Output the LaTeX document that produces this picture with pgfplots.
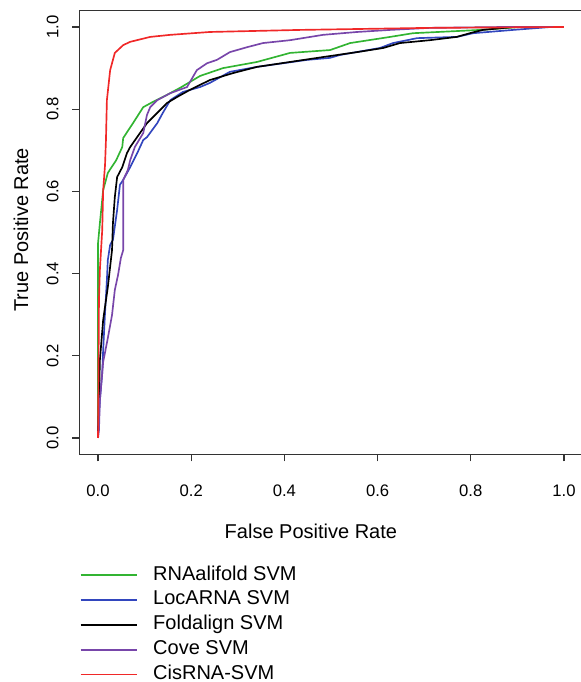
\documentclass[border=0pt]{standalone}
\usepackage{fontspec}
\setmainfont{Liberation Sans}
\usepackage{pgfplots}
\pgfplotsset{compat=1.18}

\definecolor{cgreen}{RGB}{50,180,50}
\definecolor{cblue}{RGB}{50,70,190}
\definecolor{cpurple}{RGB}{120,70,170}
\definecolor{cred}{RGB}{240,40,40}

\begin{document}
\begin{tikzpicture}
% page = 580 x 682 px at 0.6pt per px
\path[use as bounding box] (0pt,0pt) rectangle (348pt,-409.2pt);
\begin{axis}[
    scale only axis,
    width=301.92pt, height=266.28pt,
    at={(47.64pt,-272.64pt)}, anchor=south west,
    xmin=-0.04, xmax=1.04, ymin=-0.04, ymax=1.04,
    xtick={0,0.2,0.4,0.6,0.8,1}, ytick={0,0.2,0.4,0.6,0.8,1},
    tick pos=left, tick align=outside, major tick length=4.2pt,
    axis line style={black!80, line width=0.8pt},
    tick style={black!80, line width=0.8pt},
    /pgf/number format/.cd, fixed, fixed zerofill, precision=1, assume math mode=true,
    /pgfplots/.cd,
    ticklabel style={font=\fontsize{10}{11}\selectfont},
    yticklabel style={rotate=90, anchor=south},
    xticklabel shift=10.8pt,
    yticklabel shift=4.8pt,
    xlabel={False Positive Rate},
    ylabel={True Positive Rate},
    label style={font=\fontsize{12}{14}\selectfont},
    xlabel style={at={(axis description cs:0.46,-0.1726)}, anchor=center},
    ylabel style={at={(axis description cs:-0.116,0.506)}, anchor=center},
    legend style={at={(axis description cs:0.0,-0.2465)}, anchor=north west,
        draw=none, fill=none, inner sep=0pt, row sep=1.7pt,
        font=\fontsize{12}{14}\selectfont,
        nodes={inner sep=1pt, text height=8.6pt, text depth=2.6pt},
        /tikz/every odd column/.append style={column sep=8pt}},
    legend cell align=left,
    legend image code/.code={\draw[#1, line width=1.1pt] (0pt,0pt) -- (34pt,0pt);},
    every axis plot/.append style={line width=1pt},
]
\addplot[color=cgreen] coordinates {
(0,0) (0,0.474) (0.004,0.523) (0.011,0.603) (0.021,0.645) (0.039,0.676)
(0.052,0.708) (0.054,0.730) (0.075,0.766) (0.097,0.805) (0.118,0.818)
(0.148,0.835) (0.176,0.852) (0.219,0.881) (0.268,0.900) (0.341,0.915)
(0.412,0.937) (0.498,0.944) (0.541,0.961) (0.627,0.976) (0.676,0.985)
(0.820,0.993) (0.906,1.0) (1,1)
};
\addlegendentry{RNAalifold SVM}
\addplot[color=cblue] coordinates {
(0,0) (0,0.019) (0.004,0.092) (0.009,0.158) (0.011,0.214) (0.015,0.304)
(0.019,0.384) (0.021,0.433) (0.026,0.470) (0.032,0.482) (0.041,0.555)
(0.047,0.616) (0.054,0.628) (0.069,0.659) (0.084,0.693) (0.097,0.725)
(0.105,0.732) (0.127,0.766) (0.139,0.791) (0.155,0.822) (0.182,0.842)
(0.219,0.854) (0.240,0.864) (0.283,0.891) (0.341,0.903) (0.448,0.920)
(0.498,0.925) (0.519,0.932) (0.605,0.949) (0.633,0.961) (0.685,0.973)
(0.770,0.976) (0.805,0.985) (0.891,0.993) (0.970,1.0) (1,1)
};
\addlegendentry{LocARNA SVM}
\addplot[color=black] coordinates {
(0,0) (0.002,0.092) (0.004,0.190) (0.011,0.287) (0.021,0.367) (0.030,0.457)
(0.032,0.523) (0.036,0.586) (0.041,0.635) (0.052,0.659) (0.062,0.693)
(0.069,0.708) (0.090,0.742) (0.105,0.766) (0.127,0.791) (0.148,0.815)
(0.170,0.830) (0.197,0.847) (0.240,0.871) (0.290,0.888) (0.341,0.903)
(0.412,0.915) (0.483,0.927) (0.556,0.939) (0.612,0.949) (0.648,0.961)
(0.712,0.968) (0.770,0.976) (0.798,0.985) (0.826,0.993) (0.891,1.0) (1,1)
};
\addlegendentry{Foldalign SVM}
\addplot[color=cpurple] coordinates {
(0,0) (0.002,0.019) (0.004,0.092) (0.011,0.185) (0.021,0.243) (0.030,0.299)
(0.036,0.360) (0.043,0.397) (0.049,0.438) (0.054,0.457) (0.054,0.628)
(0.064,0.652) (0.069,0.676) (0.079,0.708) (0.097,0.742) (0.105,0.786)
(0.112,0.805) (0.127,0.822) (0.155,0.839) (0.191,0.854) (0.212,0.895)
(0.234,0.912) (0.255,0.920) (0.283,0.939) (0.320,0.951) (0.354,0.961)
(0.412,0.968) (0.483,0.981) (0.556,0.988) (0.627,0.993) (0.712,0.998)
(0.863,1.0) (1,1)
};
\addlegendentry{Cove SVM}
\addplot[color=cred] coordinates {
(0,0) (0.002,0.336) (0.004,0.410) (0.009,0.506) (0.011,0.603) (0.015,0.664)
(0.017,0.725) (0.019,0.822) (0.026,0.895) (0.036,0.937) (0.054,0.956)
(0.069,0.964) (0.112,0.976) (0.155,0.981) (0.240,0.988) (0.433,0.993)
(0.712,0.998) (0.991,1.0) (1,1)
};
\addlegendentry{CisRNA-SVM}
\end{axis}
\end{tikzpicture}
\end{document}
